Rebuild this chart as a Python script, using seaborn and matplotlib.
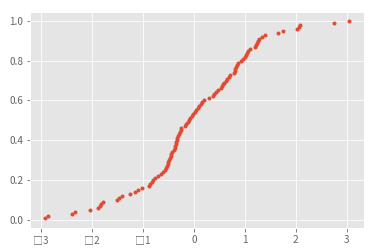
import numpy as np
import pandas as pd
import matplotlib
matplotlib.use("Agg")
import matplotlib.pyplot as plt
import seaborn as sns

# sample values (sorted)
values = [-2.93, -2.86, -2.40, -2.33, -2.05, -1.88, -1.85, -1.82, -1.79,
          -1.52, -1.47, -1.42, -1.26, -1.15, -1.10, -1.02,
          -0.88, -0.86, -0.83, -0.80, -0.77, -0.70, -0.65, -0.60,
          -0.56, -0.54, -0.52, -0.51, -0.50, -0.49, -0.47, -0.46, -0.45, -0.44,
          -0.40, -0.38, -0.37, -0.36, -0.35, -0.34, -0.33, -0.32, -0.30, -0.28, -0.26, -0.25,
          -0.18, -0.15, -0.12,
          -0.10, -0.07, -0.04, -0.01, 0.02, 0.05, 0.08, 0.10, 0.13, 0.16, 0.19,
          0.30, 0.37, 0.40, 0.44, 0.48,
          0.53, 0.55, 0.57, 0.59, 0.62, 0.65, 0.68, 0.71,
          0.79, 0.80, 0.81, 0.82, 0.84, 0.87,
          0.93, 0.97, 1.00, 1.02, 1.04, 1.07, 1.10,
          1.19, 1.22, 1.24, 1.26, 1.28,
          1.33, 1.40, 1.66, 1.74, 2.03, 2.06, 2.08, 2.75, 3.04]
xtick_vals = [-3, -2, -1, 0, 1, 2, 3]
xtick_labels = ["□3", "□2", "□1", "0", "1", "2", "3"]
ytick_vals = [0.0, 0.2, 0.4, 0.6, 0.8, 1.0]

plt.style.use("ggplot")
plt.rcParams["font.family"] = ["Noto Sans CJK SC", "DejaVu Sans"]

xs = np.sort(np.array(values))
ys = np.arange(1, len(xs) + 1) / len(xs)
df = pd.DataFrame({"x": xs, "ecdf": ys})

fig = plt.figure(figsize=(374 / 72, 251 / 72), dpi=72)
ax = fig.add_axes([30 / 374, 23 / 251, 334 / 374, 216 / 251])
sns.scatterplot(data=df, x="x", y="ecdf", ax=ax, color="#E24A33",
                marker="o", s=16, linewidth=0)
ax.set_xlim(-3.22, 3.34)
ax.set_ylim(-0.0395, 1.0435)
ax.set_xticks(xtick_vals)
ax.set_xticklabels(xtick_labels)
ax.set_yticks(ytick_vals)
ax.set_yticklabels([f"{v:.1f}" for v in ytick_vals])
ax.set_xlabel("")
ax.set_ylabel("")
ax.tick_params(labelsize=10, colors="#666666")
fig.savefig("out.png", dpi=72)
